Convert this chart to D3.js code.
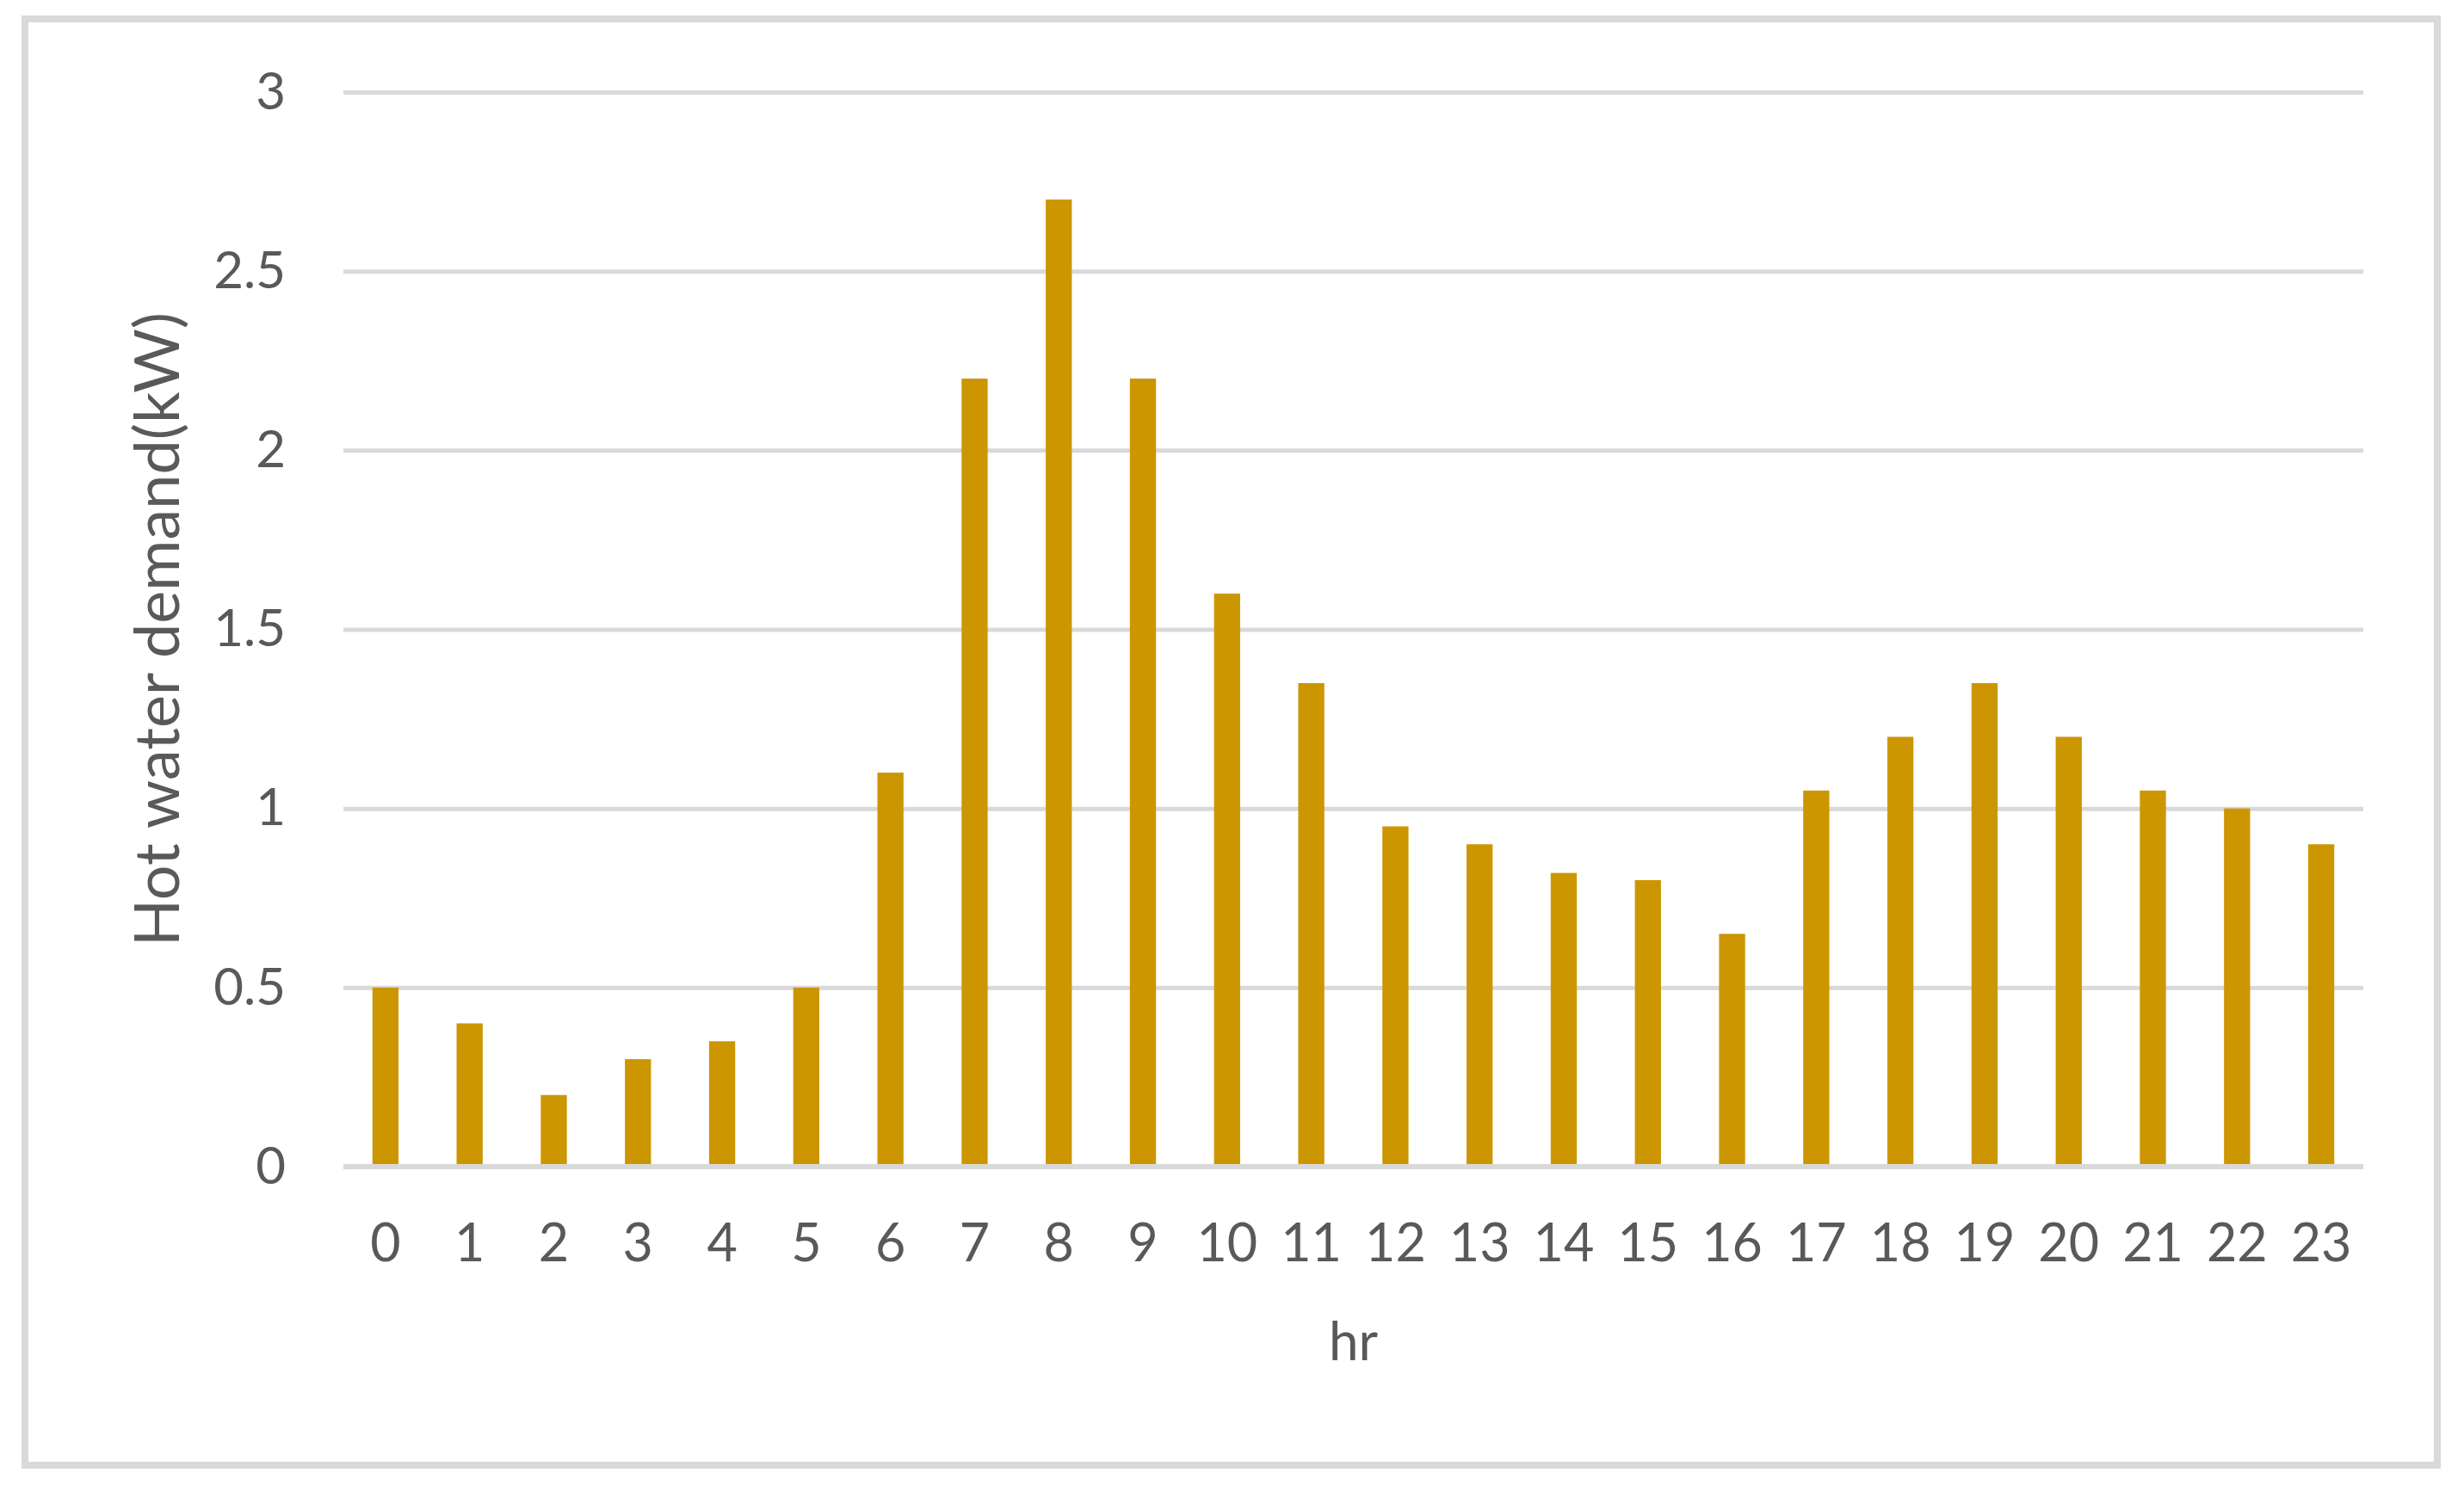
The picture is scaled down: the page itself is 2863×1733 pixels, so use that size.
<!DOCTYPE html>
<html>
<head>
<meta charset="utf-8">
<script src="https://cdn.jsdelivr.net/npm/d3@7"></script>
<style>
  html, body { margin: 0; padding: 0; background: #fff; }
  text { font-family: Lato, "Open Sans", sans-serif; fill: #595959; }
</style>
</head>
<body>
<div id="chart"></div>
<script>
const W = 2863;
const H = 1733;
const margin = { left: 399, right: W - 2746, top: 107, bottom: H - 1356 };
const width = W - margin.left - margin.right;
const height = H - margin.top - margin.bottom;

// hours of the day and demand per hour (kW)
const hours = d3.range(0, 24).map(String);
const demand = [0.5, 0.4, 0.2, 0.3, 0.35, 0.5, 1.1, 2.2, 2.7, 2.2, 1.6, 1.35,
                0.95, 0.9, 0.82, 0.8, 0.65, 1.05, 1.2, 1.35, 1.2, 1.05, 1.0, 0.9];
const y_ticks = [0, 0.5, 1, 1.5, 2, 2.5, 3];

const bar_color = '#cc9600';
const grid_color = '#d9d9d9';

const x_scale = d3.scaleBand()
  .domain(hours)
  .range([0, width])
  .paddingInner(0.69)
  .paddingOuter(0.345);
const y_scale = d3.scaleLinear()
  .domain([0, 3])
  .range([height, 0]);

const svg_root = d3.select('#chart')
  .append('svg')
    .attr('width', W)
    .attr('height', H);

// outer frame
svg_root.append('rect')
  .attr('x', 29)
  .attr('y', 22)
  .attr('width', 2803)
  .attr('height', 1681)
  .attr('fill', '#fff')
  .attr('stroke', grid_color)
  .attr('stroke-width', 8);

const svg = svg_root.append('g')
  .attr('transform', 'translate(' + margin.left + ',' + margin.top + ')');

// y axis + gridlines
svg.append('g')
    .attr('class', 'y-axis')
    .call(d3.axisLeft(y_scale)
      .tickValues(y_ticks)
      .tickSize(-width)
      .tickPadding(67)
      .tickFormat(d3.format('')))
    .call(g => g.select('.domain').remove())
    .call(g => g.selectAll('line')
      .attr('stroke', grid_color)
      .attr('stroke-width', 5))
    .call(g => g.selectAll('text')
      .attr('font-size', 60));

// bars
svg.selectAll('.bar')
    .data(demand)
  .join('rect')
    .attr('class', 'bar')
    .attr('x', (d, i) => x_scale(hours[i]))
    .attr('y', d => y_scale(d))
    .attr('width', x_scale.bandwidth())
    .attr('height', d => height - y_scale(d))
    .attr('fill', bar_color);

// baseline
svg.append('line')
  .attr('x1', 0)
  .attr('x2', width)
  .attr('y1', height)
  .attr('y2', height)
  .attr('stroke', grid_color)
  .attr('stroke-width', 6);

// x axis
svg.append('g')
    .attr('class', 'x-axis')
    .attr('transform', 'translate(0,' + height + ')')
    .call(d3.axisBottom(x_scale).tickSize(0).tickPadding(67))
    .call(g => g.select('.domain').remove())
    .call(g => g.selectAll('text')
      .attr('font-size', 61));

// axis titles
svg.append('text')
  .attr('text-anchor', 'middle')
  .attr('x', width / 2)
  .attr('y', 1581 - margin.top)
  .attr('font-size', 62)
  .text('hr');

svg.append('text')
  .attr('text-anchor', 'middle')
  .attr('transform', 'translate(' + (208 - margin.left) + ',' + (height / 2) + ') rotate(-90)')
  .attr('font-size', 72)
  .text('Hot water demand(kW)');
</script>
</body>
</html>
